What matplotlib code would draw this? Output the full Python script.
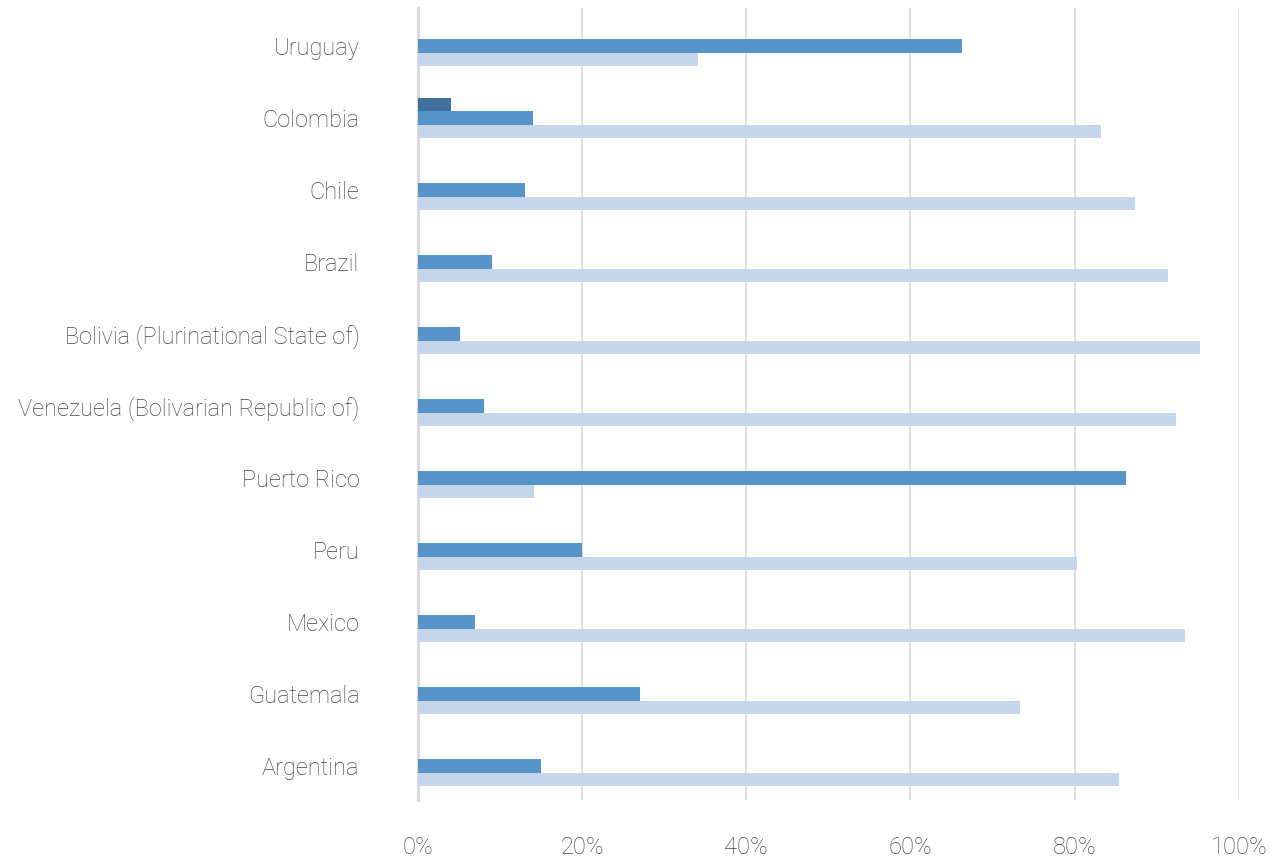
import matplotlib
matplotlib.use('Agg')
import matplotlib.pyplot as plt
import numpy as np

plt.rcParams['font.family'] = ['Roboto', 'DejaVu Sans']
plt.rcParams['font.weight'] = 'light'

# countries bottom to top
countries = ['Argentina', 'Guatemala', 'Mexico', 'Peru', 'Puerto Rico',
             'Venezuela (Bolivarian Republic of)', 'Bolivia (Plurinational State of)',
             'Brazil', 'Chile', 'Colombia', 'Uruguay']
# shares in percent, three series per country
share_dark = [0, 0, 0, 0, 0, 0, 0, 0, 0, 4, 0]
share_mid = [15, 27, 7, 20, 86.3, 8, 5.1, 9, 13, 14, 66.3]
share_light = [85.4, 73.3, 93.4, 80.3, 14.1, 92.4, 95.3, 91.4, 87.3, 83.2, 34.1]
xticks = [0, 20, 40, 60, 80, 100]

fig = plt.figure(figsize=(12.7, 8.67), dpi=100)
ax = fig.add_axes([0.329, 0.0773, 0.6465, 0.9135])

y = np.arange(len(countries))
h = 0.187
ax.barh(y + h, share_dark, height=h, color='#41719C', zorder=3)
ax.barh(y, share_mid, height=h, color='#5694CA', zorder=3)
ax.barh(y - h, share_light, height=h, color='#C5D5EA', zorder=3)

ax.set_xlim(0, 100)
ax.set_ylim(-0.47, 10.53)
ax.set_xticks(xticks)
ax.set_xticklabels([str(t) + '%' for t in xticks])
ax.set_yticks(y)
ax.set_yticklabels(countries)

ax.grid(axis='x', color='#D9D9D9', linewidth=1.2, zorder=0)
for s in ['top', 'right', 'bottom']:
    ax.spines[s].set_visible(False)
ax.spines['left'].set_color('#D9D9D9')
ax.spines['left'].set_linewidth(2.2)
ax.spines['left'].set_zorder(2)

ax.tick_params(axis='both', length=0, labelsize=17, labelcolor='#454545')
ax.tick_params(axis='y', pad=42)
ax.tick_params(axis='x', pad=26)

plt.savefig('out.png', dpi=100)
